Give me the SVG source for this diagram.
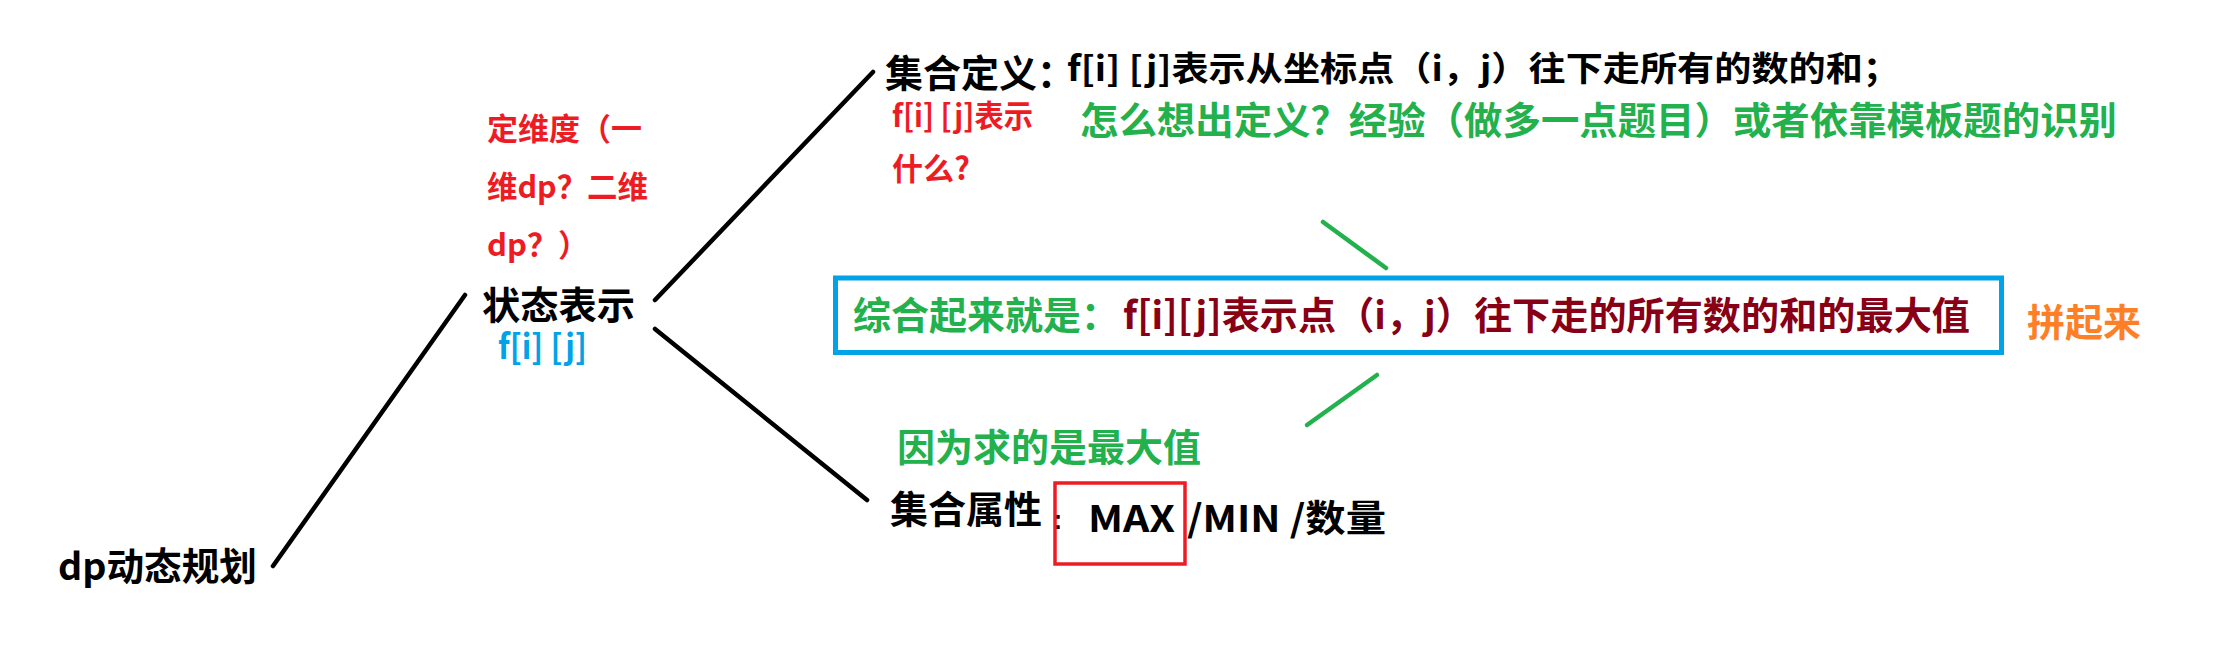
<svg xmlns="http://www.w3.org/2000/svg" width="2223" height="655" viewBox="0 0 2223 655">
<style>
text{font-family:"Noto Sans CJK SC","Noto Sans",sans-serif;font-weight:700}
.k{fill:#000}
.r{fill:#ed1c24}
.b{fill:#00a2e8}
.g{fill:#22b14c}
.d{fill:#880015}
.o{fill:#ff7f27}
.f38{font-size:38px}
.f34{font-size:34px}
.f31{font-size:31px}
.ln{fill:none;stroke:#000;stroke-width:4.5;stroke-linecap:round}
.gl{fill:none;stroke:#22b14c;stroke-width:4.5;stroke-linecap:round}
</style>
<rect width="2223" height="655" fill="#fff"/>
<g id="connectors">
<line class="ln" x1="273" y1="566" x2="465" y2="295"/>
<line class="ln" x1="655" y1="300" x2="873" y2="72"/>
<line class="ln" x1="655" y1="329" x2="867" y2="500"/>
<line class="gl" x1="1323" y1="222" x2="1386" y2="268"/>
<line class="gl" x1="1377" y1="375" x2="1307" y2="425"/>
</g>
<g id="root">
<text class="k f38" x="58" y="580" textLength="199" lengthAdjust="spacingAndGlyphs">dp动态规划</text>
</g>
<g id="state">
<text class="k f38" x="482" y="319" textLength="153" lengthAdjust="spacingAndGlyphs">状态表示</text>
<text class="b f34" x="498" y="359" textLength="89" lengthAdjust="spacingAndGlyphs">f[i] [j]</text>
</g>
<g id="dim-note">
<text class="r f31" x="487" y="140" textLength="155" lengthAdjust="spacingAndGlyphs">定维度（一</text>
<text class="r f31" x="487" y="198" textLength="161" lengthAdjust="spacingAndGlyphs">维dp？二维</text>
<text class="r f31" x="487" y="256">dp？）</text>
</g>
<g id="set-def">
<text class="k f38" x="885" y="87">集合定义：</text>
<text class="k f34" x="1067" y="81" textLength="833" lengthAdjust="spacingAndGlyphs">f[i] [j]表示从坐标点（i，j）往下走所有的数的和；</text>
</g>
<g id="def-question">
<text class="r f31" x="892" y="127" textLength="141" lengthAdjust="spacingAndGlyphs">f[i] [j]表示</text>
<text class="r f31" x="892" y="180">什么?</text>
</g>
<g id="def-hint">
<text class="g f38" x="1080" y="134" textLength="1037" lengthAdjust="spacingAndGlyphs">怎么想出定义？经验（做多一点题目）或者依靠模板题的识别</text>
</g>
<g id="summary">
<rect x="835.5" y="278" width="1166" height="74.5" fill="none" stroke="#00a2e8" stroke-width="5"/>
<text class="g f38" x="853" y="329">综合起来就是：</text>
<text class="d f38" x="1123" y="329" textLength="847" lengthAdjust="spacingAndGlyphs">f[i][j]表示点（i，j）往下走的所有数的和的最大值</text>
</g>
<g id="combine">
<text class="o f38" x="2027" y="336">拼起来</text>
</g>
<g id="attr-reason">
<text class="g f38" x="897" y="461">因为求的是最大值</text>
</g>
<g id="set-attr">
<text class="k f38" x="890" y="523">集合属性</text>
<text x="1053" y="529" style="font-family:'Liberation Sans',sans-serif;font-size:28px;font-weight:700">:</text>
<rect x="1055" y="483" width="130" height="81" fill="none" stroke="#ed1c24" stroke-width="3.5"/>
<text class="k" x="1088" y="532" style="font-size:37px" textLength="87" lengthAdjust="spacingAndGlyphs">MAX</text>
<text class="k" x="1187" y="532" style="font-size:37px" textLength="199" lengthAdjust="spacingAndGlyphs">/MIN /数量</text>
</g>
</svg>
